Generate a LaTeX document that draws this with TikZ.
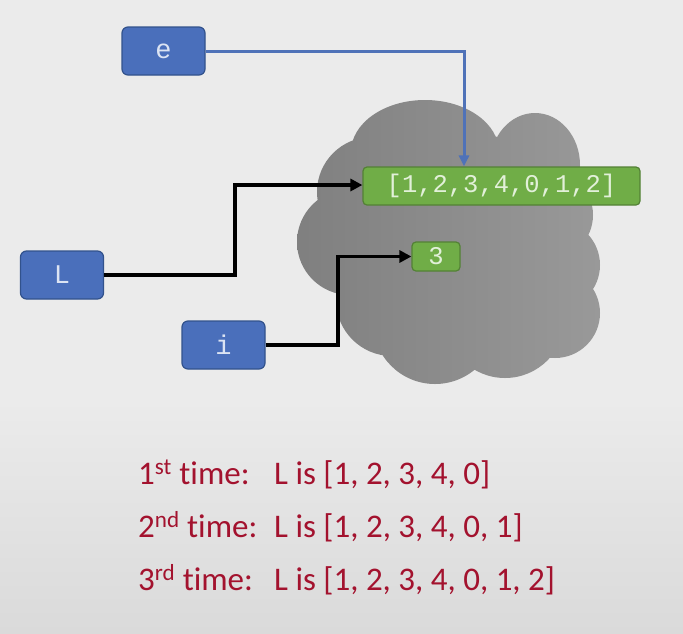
\documentclass[tikz,border=0pt]{standalone}
\usepackage{fontspec}
\setmainfont{Carlito}[Ligatures={NoCommon}]
\newfontfamily\monofont{Liberation Mono}
\usetikzlibrary{arrows.meta}
\definecolor{bgtop}{HTML}{EBEBEB}
\definecolor{bgbot}{HTML}{DADADA}
\definecolor{boxblue}{HTML}{4A6FBB}
\definecolor{boxblueline}{HTML}{32528C}
\definecolor{boxgreen}{HTML}{70AD47}
\definecolor{boxgreenline}{HTML}{538135}
\definecolor{bluetext}{HTML}{DCE4F3}
\definecolor{greentext}{HTML}{E2F0D9}
\definecolor{linkblue}{HTML}{4F72B8}
\definecolor{redtext}{HTML}{A3122E}
\begin{document}
\begin{tikzpicture}[x=1pt,y=-1pt,
  varbox/.style={draw=boxblueline,fill=boxblue,line width=1.2pt,rounded corners=6pt,
    minimum width=83pt,minimum height=48pt,inner sep=0pt,text=bluetext,
    font=\monofont\fontsize{27}{27}\selectfont},
  objbox/.style={draw=boxgreenline,fill=boxgreen,line width=1.2pt,rounded corners=4pt,
    inner sep=0pt,text=greentext,font=\monofont\fontsize{25.5}{25.5}\selectfont},
  blink/.style={linkblue,line width=3pt,-{Triangle[length=11pt,width=10pt]}},
  klink/.style={black,line width=3.5pt,-{Triangle[length=12pt,width=12pt]}},
  note/.style={anchor=base west,inner sep=0pt,text=redtext,font=\fontsize{33}{33}\selectfont}]
\useasboundingbox (0,0) rectangle (683,633);
% background
\fill[bgtop] (0,0) rectangle (683,400);
\shade[top color=bgtop,bottom color=bgbot] (0,400) rectangle (683,633);
% cloud
\shade[left color=black!50,right color=black!40]
  (425,152) ellipse [x radius=74pt,y radius=52pt]
  (535,165) ellipse [x radius=45pt,y radius=52pt]
  (372,192) circle [radius=55pt]
  (350,242) circle [radius=53pt]
  (392,300) circle [radius=56pt]
  (435,322) circle [radius=62pt]
  (505,318) circle [radius=60pt]
  (548,215) circle [radius=45pt]
  (555,265) circle [radius=45pt]
  (555,313) circle [radius=45pt]
  (455,240) ellipse [x radius=120pt,y radius=110pt];
% variable boxes
\node[varbox] (e) at (163.5,51) {e};
\node[varbox] (L) at (62,275) {L};
\node[varbox] (i) at (223.5,345) {i};
% object boxes
\node[objbox,minimum width=277pt,minimum height=38pt] (lst) at (501.5,186) {[1,2,3,4,0,1,2]};
\node[objbox,minimum width=48pt,minimum height=29pt] (three) at (436,256.5) {3};
% connectors
\coordinate (eturn) at (464,51);
\draw[blink] (e.east) -- (eturn) -- (eturn |- lst.north);
\draw[klink] (L.east) -- (235,275) -- (235,185) -- (lst.west |- 0,185);
\draw[klink] (i.east) -- (338,345) -- (338,256.5) -- (three.west);
% notes
\node[note] (n1) at (138,484) {\makebox[136pt][l]{1\textsuperscript{st} time:}L is [1, 2, 3, 4, 0]};
\node[note] (n2) at (138,537) {\makebox[136pt][l]{2\textsuperscript{nd} time:}L is [1, 2, 3, 4, 0, 1]};
\node[note] (n3) at (138,590) {\makebox[136pt][l]{3\textsuperscript{rd} time:}L is [1, 2, 3, 4, 0, 1, 2]};
\end{tikzpicture}
\end{document}
